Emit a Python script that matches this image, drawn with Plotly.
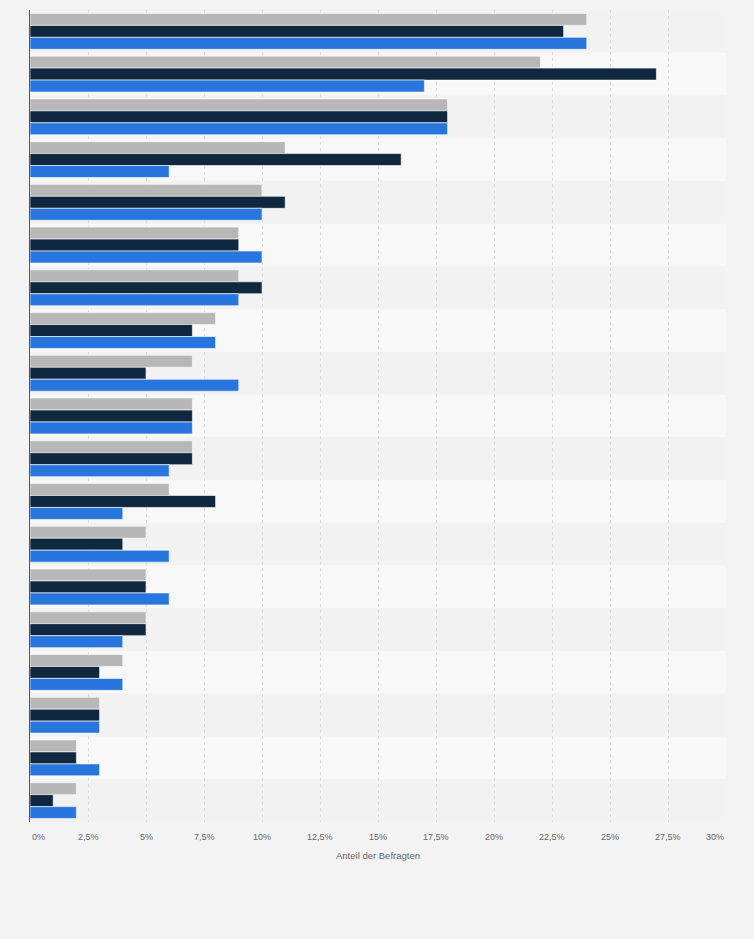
import plotly.graph_objects as go

# Kategorien (im Original ohne Beschriftung sichtbar)
kategorien = [str(i) for i in range(1, 20)]

serie_grau = [24, 22, 18, 11, 10, 9, 9, 8, 7, 7, 7, 6, 5, 5, 5, 4, 3, 2, 2]
serie_dunkel = [23, 27, 18, 16, 11, 9, 10, 7, 5, 7, 7, 8, 4, 5, 5, 3, 3, 2, 1]
serie_blau = [24, 17, 18, 6, 10, 10, 9, 8, 9, 7, 6, 4, 6, 6, 4, 4, 3, 3, 2]

tick_werte = [0, 2.5, 5, 7.5, 10, 12.5, 15, 17.5, 20, 22.5, 25, 27.5, 30]
tick_texte = ["0%", "2,5%", "5%", "7,5%", "10%", "12,5%", "15%", "17,5%",
              "20%", "22,5%", "25%", "27,5%", "30%"]

fig = go.Figure()
for werte, farbe, name in [(serie_grau, "#b7b7b7", "Serie 1"),
                           (serie_dunkel, "#0f273f", "Serie 2"),
                           (serie_blau, "#2876dd", "Serie 3")]:
    fig.add_trace(go.Bar(
        y=kategorien, x=werte, orientation="h", name=name,
        marker=dict(color=farbe, line=dict(color="rgba(255,255,255,0.6)", width=1)),
        hovertemplate="%{x}%<extra></extra>",
    ))

# abwechselnde Zeilenstreifen
for i in range(len(kategorien)):
    fig.add_shape(type="rect", xref="paper", yref="y",
                  x0=0, x1=1, y0=i - 0.5, y1=i + 0.5,
                  fillcolor="#f2f2f2" if i % 2 == 0 else "#f8f8f8",
                  line_width=0, layer="below")

# Achsenbeschriftungen wie im Original (erste links, letzte rechts bündig)
for i, (v, t) in enumerate(zip(tick_werte, tick_texte)):
    anker = "left" if i == 0 else ("right" if i == len(tick_werte) - 1 else "center")
    fig.add_annotation(x=v, y=0, xref="x", yref="paper", text=t, showarrow=False,
                       xanchor=anker, yanchor="top", yshift=-8,
                       font=dict(family="Liberation Sans, Arial", size=9, color="#666666"))

fig.add_annotation(x=0.5, y=0, xref="paper", yref="paper", text="Anteil der Befragten",
                   showarrow=False, xanchor="center", yanchor="top", yshift=-26,
                   font=dict(family="Liberation Sans, Arial", size=9.5, color="#666666"))

fig.update_layout(
    width=754, height=939,
    margin=dict(l=30, r=28, t=10, b=117),
    paper_bgcolor="#f3f3f3", plot_bgcolor="#f3f3f3",
    barmode="group", bargap=0.16, bargroupgap=0,
    showlegend=False,
    font=dict(family="Liberation Sans, Arial", size=10, color="#666666"),
)
fig.update_xaxes(range=[0, 30], tickvals=tick_werte, showticklabels=False,
                 showgrid=True, gridcolor="#dcdcdc", griddash="dot", gridwidth=1,
                 zeroline=False, fixedrange=True)
fig.update_yaxes(autorange="reversed", showticklabels=False, showgrid=False,
                 showline=True, linecolor="#555555", linewidth=1, ticks="",
                 fixedrange=True)

# Seitenrand des Browsers entfernen, Modebar aus
fig.write_html("out.html", config={"displayModeBar": False},
               post_script="document.body.style.margin='0';")
